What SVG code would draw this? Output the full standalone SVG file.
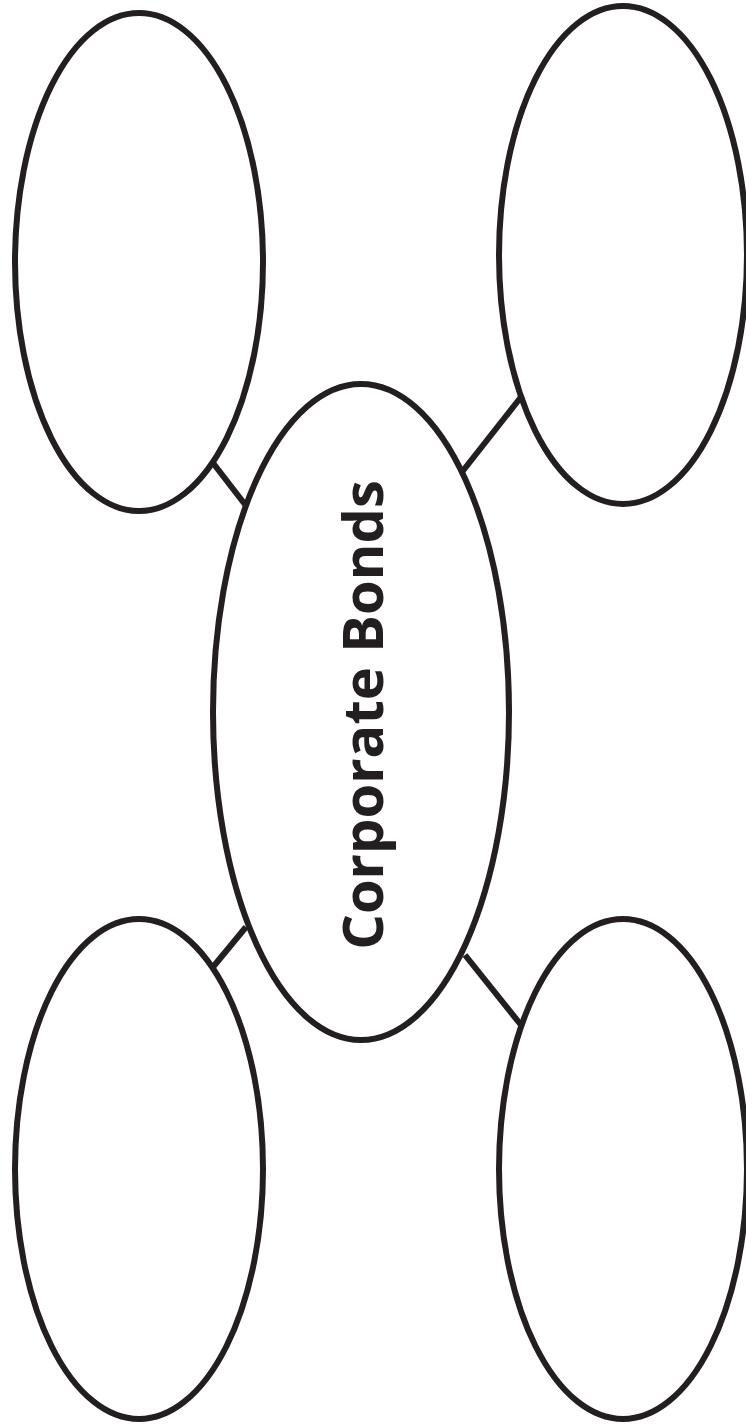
<svg xmlns="http://www.w3.org/2000/svg" width="746" height="1427" viewBox="0 0 746 1427">
<style>
.n{fill:#fff;stroke:#231f20;stroke-width:6}
.c line{stroke:#231f20;stroke-width:6}
.t{font-family:"Open Sans","Liberation Sans",sans-serif;font-weight:bold;font-size:56px;fill:#231f20}
</style>
<rect width="746" height="1427" fill="#fff"/>
<g class="c" id="connectors">
<line x1="213" y1="463" x2="247" y2="507"/>
<line x1="462" y1="472" x2="521" y2="397"/>
<line x1="213" y1="967" x2="246" y2="927"/>
<line x1="465" y1="955" x2="521" y2="1025"/>
</g>
<g id="n-tl"><ellipse class="n" cx="139" cy="262" rx="124" ry="249"/></g>
<g id="n-tr"><ellipse class="n" cx="623" cy="255" rx="124" ry="249"/></g>
<g id="n-bl"><ellipse class="n" cx="139" cy="1169" rx="124" ry="250"/></g>
<g id="n-br"><ellipse class="n" cx="623" cy="1169" rx="124" ry="250"/></g>
<g id="n-center"><ellipse class="n" cx="361" cy="712" rx="148" ry="328"/>
<text class="t" transform="translate(383,715) rotate(-90)" text-anchor="middle">Corporate Bonds</text></g>
</svg>
